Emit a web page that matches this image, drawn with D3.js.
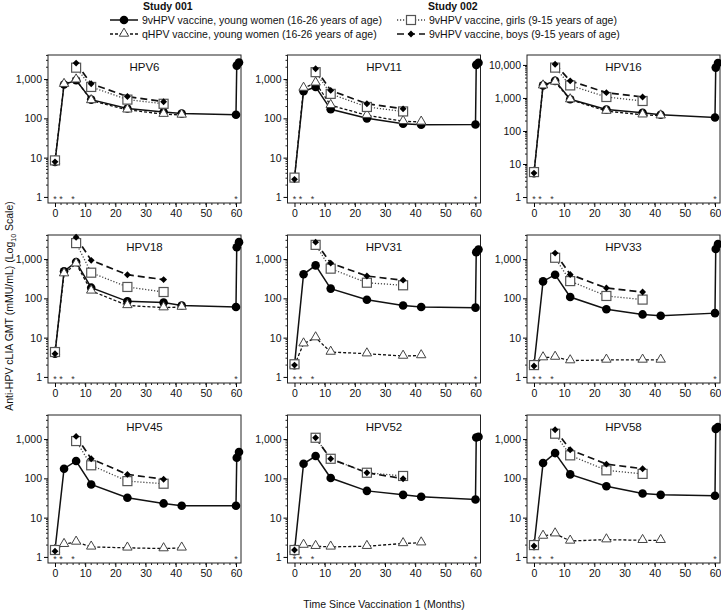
<!DOCTYPE html>
<html>
<head>
<meta charset="utf-8">
<script src="https://cdn.jsdelivr.net/npm/d3@7"></script>
<style>
    body { margin: 0; background: #fff; }
    svg { display: block; font-family: "Liberation Sans", Arial, sans-serif; }
</style>
</head>
<body>
<svg id="chart" width="721" height="610"></svg>
<script>
/*global d3 */
"use strict";

// panel names, left to right, top to bottom
var types = ["HPV6", "HPV11", "HPV16", "HPV18", "HPV31", "HPV33",
    "HPV45", "HPV52", "HPV58"];

// sampling months of each series
var monthsWomen9v = [0, 3, 7, 12, 24, 36, 42, 60, 60.25, 61];
var monthsQhpv = [0, 3, 7, 12, 24, 36, 42];
var monthsStudy002 = [0, 7, 12, 24, 36];

// GMT values (mMU/mL), one row per panel
var women9v = [
    [7.8, 730, 930, 300, 178, 145, 132, 124, 2200, 2650],
    [3.0, 490, 630, 170, 100, 73, 69, 70, 2300, 2600],
    [5.3, 2400, 3300, 910, 445, 355, 310, 255, 8300, 11500],
    [3.9, 490, 840, 187, 84, 78, 66, 60, 2000, 2700],
    [2.0, 410, 690, 177, 92, 66, 60, 58, 1500, 1750],
    [2.0, 270, 400, 108, 53, 39, 36, 42, 1800, 2400],
    [1.5, 176, 277, 70, 32, 23, 20, 20, 335, 470],
    [1.4, 235, 370, 102, 48, 38, 34, 29, 1100, 1150],
    [1.9, 245, 440, 126, 63, 41, 38, 36, 1820, 2030]
];
var qhpvWomen = [
    [8.2, 740, 960, 285, 165, 128, 122],
    [3.0, 590, 800, 215, 120, 84, 81],
    [5.5, 2350, 3050, 890, 400, 310, 290],
    [4.2, 425, 760, 155, 66, 58, 60],
    [2.0, 7.0, 10, 4.3, 3.9, 3.4, 3.5],
    [2.0, 3.1, 3.2, 2.6, 2.7, 2.7, 2.7],
    [1.5, 2.1, 2.4, 1.8, 1.7, 1.63, 1.7],
    [1.5, 2.0, 1.87, 1.8, 1.87, 2.2, 2.3],
    [2.0, 3.4, 3.9, 2.55, 2.75, 2.65, 2.65]
];
var girls = [
    [8.5, 1950, 630, 300, 235],
    [3.1, 1500, 420, 195, 150],
    [5.7, 8300, 2400, 1070, 810],
    [4.3, 2550, 450, 195, 145],
    [2.1, 2300, 570, 250, 215],
    [2.0, 1080, 275, 115, 93],
    [1.5, 890, 215, 85, 73],
    [1.5, 1080, 315, 139, 115],
    [2.0, 1370, 385, 160, 130]
];
var boys = [
    [7.8, 2550, 760, 360, 265],
    [2.8, 1830, 515, 235, 175],
    [5.3, 10500, 3300, 1450, 1070],
    [3.9, 3600, 930, 400, 300],
    [2.0, 2700, 790, 370, 290],
    [1.9, 1420, 405, 183, 145],
    [1.4, 1170, 315, 126, 95],
    [1.5, 1080, 315, 139, 98],
    [1.9, 1730, 535, 230, 176]
];

// axis settings
var yTop = [4100, 4100, 20000, 4100, 4100, 4100, 4100, 4100, 4100];
var yTicks = [1, 10, 100, 1000, 10000];
var xTicks = [0, 10, 20, 30, 40, 50, 60];
var doseMonths = [0, 2, 6, 60];

var legendItems = [
    {label: "9vHPV vaccine, young women (16-26 years of age)", s: "women"},
    {label: "qHPV vaccine, young women (16-26 years of age)", s: "qhpv"},
    {label: "9vHPV vaccine, girls (9-15 years of age)", s: "girls"},
    {label: "9vHPV vaccine, boys (9-15 years of age)", s: "boys"}
];

var svg = d3.select("#chart");
var panelW = 193;
var panelH = 148;
var fmt = d3.format(",");

var styles = {
    women: {dash: null, stroke: "#111", width: 1.5},
    qhpv: {dash: "3,2", stroke: "#111", width: 1.3},
    girls: {dash: "1.2,1.8", stroke: "#444", width: 1.3},
    boys: {dash: "7,4", stroke: "#111", width: 1.7}
};

var drawMarker = function (g, kind, x, y) {
    if (kind === "women") {
        g.append("circle").attr("cx", x).attr("cy", y).attr("r", 4.3)
            .attr("fill", "#000");
    } else if (kind === "qhpv") {
        g.append("path")
            .attr("d", d3.symbol(d3.symbolTriangle, 38)())
            .attr("transform", "translate(" + x + "," + (y - 0.5) + ")")
            .attr("fill", "#fff").attr("stroke", "#444")
            .attr("stroke-width", 1);
    } else if (kind === "girls") {
        g.append("rect").attr("x", x - 4.5).attr("y", y - 4.5)
            .attr("width", 9).attr("height", 9)
            .attr("fill", "#fff").attr("stroke", "#555")
            .attr("stroke-width", 1.2);
    } else {
        g.append("path")
            .attr("d", d3.symbol(d3.symbolDiamond2, 30)())
            .attr("transform", "translate(" + x + "," + y + ")")
            .attr("fill", "#000");
    }
};

var drawSeries = function (g, x, y, kind, months, values, skipFirst) {
    var pts = months.map(function (m, i) {
        return [m, values[i]];
    });
    var linePts = skipFirst ? pts.slice(1) : pts;
    var line = d3.line()
        .x(function (d) { return x(d[0]); })
        .y(function (d) { return y(d[1]); });
    g.append("path")
        .datum(linePts)
        .attr("d", line)
        .attr("fill", "none")
        .attr("stroke", styles[kind].stroke)
        .attr("stroke-width", styles[kind].width)
        .attr("stroke-dasharray", styles[kind].dash);
    return pts;
};

types.forEach(function (name, i) {
    var col = i % 3;
    var row = Math.floor(i / 3);
    var left = 48 + col * 239.5;
    var top = 55 + row * 180;
    var g = svg.append("g")
        .attr("transform", "translate(" + left + "," + top + ")");

    var x = d3.scaleLinear().domain([-2.32, 61.66]).range([0, panelW]);
    var y = d3.scaleLog().domain([0.7, yTop[i]]).range([panelH, 0]);
    if (yTop[i] > 10000) {
        y.domain([0.66, yTop[i]]);
    }

    // frame
    g.append("rect").attr("width", panelW).attr("height", panelH)
        .attr("fill", "none").attr("stroke", "#222").attr("stroke-width", 1);

    // y axis
    var yt = yTicks.filter(function (t) { return t <= y.domain()[1]; });
    var yAxis = d3.axisLeft(y).tickValues(yt).tickFormat(fmt)
        .tickSize(4).tickSizeOuter(0);
    var yg = g.append("g").call(yAxis);
    yg.select(".domain").remove();
    yg.selectAll("text").attr("font-size", "10.5px").attr("fill", "#111")
        .attr("x", -6);
    var minor = [];
    d3.range(0, 5).forEach(function (p) {
        d3.range(2, 10).forEach(function (k) {
            var v = k * Math.pow(10, p);
            if (v < y.domain()[1]) {
                minor.push(v);
            }
        });
    });
    g.selectAll("line.ymin").data(minor).enter().append("line")
        .attr("x1", -2).attr("x2", 0)
        .attr("y1", function (d) { return y(d); })
        .attr("y2", function (d) { return y(d); })
        .attr("stroke", "#222");

    // x axis
    var xAxis = d3.axisBottom(x).tickValues(xTicks).tickSize(4)
        .tickSizeOuter(0);
    var xg = g.append("g").attr("transform", "translate(0," + panelH + ")")
        .call(xAxis);
    xg.select(".domain").remove();
    xg.selectAll("text").attr("font-size", "10.5px").attr("fill", "#111")
        .attr("y", 7);
    g.selectAll("line.xmin").data(d3.range(2, 62, 2)).enter().append("line")
        .attr("x1", function (d) { return x(d); })
        .attr("x2", function (d) { return x(d); })
        .attr("y1", panelH).attr("y2", panelH + 2)
        .attr("stroke", "#222");

    // title
    g.append("text").attr("x", panelW / 2).attr("y", 16)
        .attr("text-anchor", "middle").attr("font-size", "11.5px")
        .attr("fill", "#111").text(name);

    // dose markers
    g.selectAll("text.dose").data(doseMonths).enter().append("text")
        .attr("x", function (d) { return x(d); })
        .attr("y", y(1) + 5)
        .attr("text-anchor", "middle").attr("font-size", "9px")
        .attr("fill", "#333").text("*");

    // lines
    var pw = drawSeries(g, x, y, "women", monthsWomen9v, women9v[i], false);
    var pq = drawSeries(g, x, y, "qhpv", monthsQhpv, qhpvWomen[i], false);
    var pg = drawSeries(g, x, y, "girls", monthsStudy002, girls[i], true);
    var pb = drawSeries(g, x, y, "boys", monthsStudy002, boys[i], true);

    // markers
    [["women", pw], ["qhpv", pq], ["girls", pg], ["boys", pb]]
        .forEach(function (s) {
            s[1].forEach(function (d) {
                drawMarker(g, s[0], x(d[0]), y(d[1]));
            });
        });
});

// legend
var legend = svg.append("g").attr("font-size", "10.5px").attr("fill", "#111");
legend.append("text").attr("x", 143).attr("y", 10).attr("font-weight", "bold")
    .text("Study 001");
legend.append("text").attr("x", 428).attr("y", 10).attr("font-weight", "bold")
    .text("Study 002");
legendItems.forEach(function (item, i) {
    var lx = i < 2 ? 110 : 397;
    var ly = 20 + (i % 2) * 14;
    var st = styles[item.s];
    legend.append("line").attr("x1", lx).attr("x2", lx + 28)
        .attr("y1", ly).attr("y2", ly)
        .attr("stroke", st.stroke).attr("stroke-width", st.width)
        .attr("stroke-dasharray", st.dash);
    drawMarker(legend, item.s, lx + 14, ly);
    legend.append("text").attr("x", lx + 32).attr("y", ly + 4)
        .text(item.label);
});

// axis titles
svg.append("text").attr("x", 384).attr("y", 608)
    .attr("text-anchor", "middle").attr("font-size", "10.5px")
    .attr("fill", "#111").text("Time Since Vaccination 1 (Months)");

var yTitle = svg.append("text")
    .attr("transform", "translate(13,306) rotate(-90)")
    .attr("text-anchor", "middle").attr("font-size", "10.5px")
    .attr("fill", "#111");
yTitle.append("tspan").text("Anti-HPV cLIA GMT (mMU/mL) (Log");
yTitle.append("tspan").attr("font-size", "7px").attr("dy", 3).text("10");
yTitle.append("tspan").attr("dy", -3).text(" Scale)");
</script>
</body>
</html>
